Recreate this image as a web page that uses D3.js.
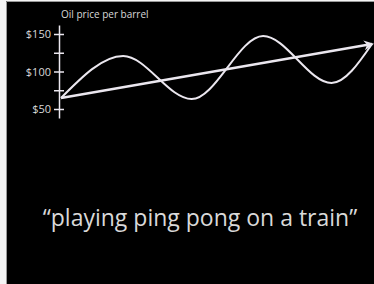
<!DOCTYPE html>
<html lang="en">
<head>
  <meta charset="UTF-8">
  <title>Oil price per barrel</title>
  <script src="https://d3js.org/d3.v7.min.js"></script>
  <style>
    body { margin: 0; background: #f4f4f4; }
  </style>
</head>
<body>
  <div id="chart"></div>
  <script>
    // time steps (arbitrary) and price readings
    const waveTimes = [0, 2.0, 4.2, 6.5, 8.7, 10];
    const wavePrices = [64.7, 120.7, 63.3, 147.3, 84.7, 136.7];
    const trendTimes = [0, 10];
    const trendPrices = [64.7, 136.7];
    const tickValues = [50, 75, 100, 125, 150];
    const tickLabels = { 50: "$50", 100: "$100", 150: "$150" };
    const title = "Oil price per barrel";
    const caption = "\u201Cplaying ping pong on a train\u201D";

    const svgWidth = 374;
    const svgHeight = 284;
    const ink = "#ebe7ef";

    const svg = d3.select("#chart")
      .append("svg")
      .attr("width", svgWidth)
      .attr("height", svgHeight)
      .style("display", "block");

    svg.append("rect")
      .attr("x", 6)
      .attr("y", 1)
      .attr("width", svgWidth - 6)
      .attr("height", svgHeight - 1)
      .attr("fill", "#000");

    // thin grey edge on the left and top of the slide
    svg.append("path")
      .attr("d", `M6.5,${svgHeight} V1.5 H${svgWidth}`)
      .attr("fill", "none")
      .attr("stroke", "#999")
      .attr("stroke-width", 1);

    const xScale = d3.scaleLinear()
      .domain([0, 10])
      .range([61, 372]);

    const yScale = d3.scaleLinear()
      .domain([38, 162])
      .range([118, 25]);

    const yAxis = d3.axisLeft(yScale)
      .tickValues(tickValues)
      .tickFormat(d => tickLabels[d] || "")
      .tickSizeInner(5)
      .tickSizeOuter(0)
      .tickPadding(3);

    const gAxis = svg.append("g")
      .attr("transform", "translate(59,0)")
      .call(yAxis);

    gAxis.select(".domain").attr("stroke", ink).attr("stroke-width", 1.5);
    gAxis.selectAll(".tick line")
      .attr("x1", -5)
      .attr("x2", 5)
      .attr("stroke", ink)
      .attr("stroke-width", 1.5);
    gAxis.selectAll(".tick text")
      .attr("fill", "#d9d9d9")
      .style("font-family", "'Open Sans', sans-serif")
      .style("font-size", "11px");

    svg.append("text")
      .attr("x", 61)
      .attr("y", 18)
      .attr("fill", "#d9d9d9")
      .style("font-family", "'Open Sans', sans-serif")
      .style("font-size", "10px")
      .text(title);

    svg.append("defs").append("marker")
      .attr("id", "arrow")
      .attr("viewBox", "0 0 10 10")
      .attr("refX", 8)
      .attr("refY", 5)
      .attr("markerWidth", 4)
      .attr("markerHeight", 4)
      .attr("orient", "auto")
      .append("path")
      .attr("d", "M0,0 L10,5 L0,10 L3,5 Z")
      .attr("fill", ink);

    const wave = waveTimes.map((t, i) => ({ t: t, p: wavePrices[i] }));
    const trend = trendTimes.map((t, i) => ({ t: t, p: trendPrices[i] }));

    const line = d3.line()
      .x(d => xScale(d.t))
      .y(d => yScale(d.p));

    svg.append("path")
      .datum(wave)
      .attr("d", line.curve(d3.curveMonotoneX))
      .attr("fill", "none")
      .attr("stroke", ink)
      .attr("stroke-width", 2);

    svg.append("path")
      .datum(trend)
      .attr("d", line.curve(d3.curveLinear))
      .attr("fill", "none")
      .attr("stroke", ink)
      .attr("stroke-width", 2.5)
      .attr("marker-end", "url(#arrow)");

    svg.append("text")
      .attr("x", 200)
      .attr("y", 226)
      .attr("text-anchor", "middle")
      .attr("fill", "#d9d9d9")
      .style("font-family", "'Open Sans', sans-serif")
      .style("font-size", "23px")
      .text(caption);
  </script>
</body>
</html>
